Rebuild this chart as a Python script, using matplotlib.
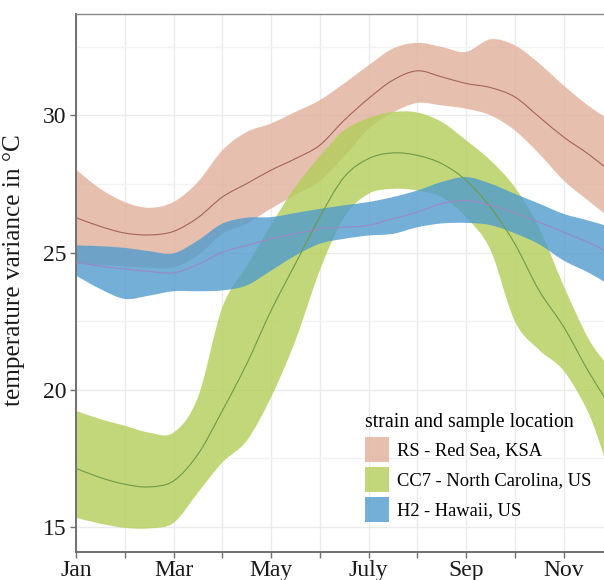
import matplotlib
matplotlib.use("Agg")
import numpy as np
import matplotlib.pyplot as plt
from matplotlib.patches import Patch, PathPatch
from matplotlib.path import Path
from matplotlib.ticker import MultipleLocator

plt.rcParams['font.family'] = ['Liberation Serif', 'DejaVu Serif']

# month index: 0 = Jan ... 11 = Dec
months = [0, 0.5, 1, 1.5, 2, 2.5, 3, 3.5, 4, 4.5, 5, 5.5, 6, 6.5, 7, 7.5, 8, 8.5, 9, 9.5, 10, 10.5, 10.85]

rs_mid = [26.27, 25.95, 25.71, 25.64, 25.77, 26.27, 27.02, 27.51, 28.0, 28.42, 28.91, 29.82,
          30.61, 31.28, 31.62, 31.4, 31.16, 31.01, 30.67, 29.94, 29.21, 28.6, 28.11]
rs_hi = [28.02, 27.32, 26.84, 26.63, 26.84, 27.57, 28.72, 29.39, 29.7, 30.12, 30.55, 31.16,
         31.82, 32.43, 32.64, 32.49, 32.31, 32.77, 32.55, 31.89, 31.09, 30.36, 29.94]
rs_lo = [24.6, 24.55, 24.5, 24.45, 24.46, 24.9, 25.68, 26.05, 26.6, 27.1, 27.6, 28.5,
         29.5, 30.1, 30.45, 30.36, 30.24, 30.0, 29.45, 28.6, 27.63, 26.9, 26.41]

cc7_mid = [17.14, 16.8, 16.56, 16.46, 16.68, 17.65, 19.23, 20.94, 22.88, 24.59, 26.29, 27.75,
           28.42, 28.63, 28.54, 28.24, 27.63, 26.65, 25.32, 23.61, 22.3, 20.7, 19.7]
cc7_hi = [19.23, 18.93, 18.69, 18.44, 18.44, 19.72, 23.0, 24.5, 26.0, 27.4, 28.5, 29.45,
          29.9, 30.12, 30.1, 29.76, 29.09, 28.36, 27.38, 25.9, 23.8, 21.9, 21.0]
cc7_lo = [15.34, 15.12, 14.97, 14.95, 15.15, 16.25, 17.35, 18.14, 19.72, 21.79, 24.34, 26.29,
          27.14, 27.32, 27.26, 27.02, 26.29, 25.1, 22.5, 21.45, 20.7, 19.2, 17.5]

h2_mid = [24.65, 24.5, 24.4, 24.31, 24.26, 24.56, 25.01, 25.26, 25.5, 25.68, 25.86, 25.92,
          25.99, 26.23, 26.47, 26.78, 26.9, 26.72, 26.44, 26.11, 25.74, 25.38, 25.07]
h2_hi = [25.26, 25.23, 25.17, 25.05, 24.97, 25.44, 26.05, 26.27, 26.29, 26.44, 26.59, 26.72,
         26.84, 27.02, 27.26, 27.57, 27.75, 27.51, 27.14, 26.78, 26.41, 26.17, 25.99]
h2_lo = [24.16, 23.67, 23.31, 23.43, 23.59, 23.59, 23.62, 23.8, 24.34, 24.89, 25.32, 25.5,
         25.62, 25.68, 25.92, 26.06, 26.08, 26.0, 25.7, 25.3, 24.71, 24.28, 23.92]

tick_pos = [0, 2, 4, 6, 8, 10]
tick_labels = ["Jan", "Mar", "May", "July", "Sep", "Nov"]
labels = ["RS - Red Sea, KSA", "CC7 - North Carolina, US", "H2 - Hawaii, US"]

fill_cols = ["#E0B09B", "#B3CE59", "#509BCD"]
line_cols = ["#A4645E", "#6F9A48", "#9C88C2"]


def bezier_segs(x, y):
    # catmull-rom through the points, as cubic bezier control points
    p = np.column_stack([x, y]).astype(float)
    n = len(p)
    verts = []
    for i in range(n - 1):
        p0 = p[i - 1] if i > 0 else p[i]
        p3 = p[i + 2] if i + 2 < n else p[i + 1]
        verts += [p[i] + (p[i + 1] - p0) / 6, p[i + 1] - (p3 - p[i]) / 6, p[i + 1]]
    return verts


def curve_path(x, y):
    verts = [(x[0], y[0])] + bezier_segs(x, y)
    codes = [Path.MOVETO] + [Path.CURVE4] * (len(verts) - 1)
    return Path(verts, codes)


def band_path(x, lo, hi):
    top = [(x[0], hi[0])] + bezier_segs(x, hi)
    bot = [(x[-1], lo[-1])] + bezier_segs(x[::-1], lo[::-1])
    verts = top + bot + [(x[0], hi[0])]
    codes = ([Path.MOVETO] + [Path.CURVE4] * (len(top) - 1) + [Path.LINETO]
             + [Path.CURVE4] * (len(bot) - 1) + [Path.CLOSEPOLY])
    return Path(verts, codes)


fig = plt.figure(figsize=(6.04, 5.8), dpi=100)
ax = fig.add_axes([76/604, 28/580, 528/604, 538/580])

series = [(rs_lo, rs_mid, rs_hi), (cc7_lo, cc7_mid, cc7_hi), (h2_lo, h2_mid, h2_hi)]
for (lo, mid, hi), fc, lc in zip(series, fill_cols, line_cols):
    ax.add_patch(PathPatch(band_path(months, lo, hi), facecolor=fc, alpha=0.8,
                           edgecolor="none", zorder=2))
    ax.add_patch(PathPatch(curve_path(months, mid), facecolor="none", edgecolor=lc,
                           linewidth=0.8, zorder=3))

ax.set_xlim(0, 10.83)
ax.set_ylim(14.09, 33.69)

ax.set_xticks(range(11))
ax.set_xticklabels([tick_labels[tick_pos.index(i)] if i in tick_pos else "" for i in range(11)])
ax.set_yticks([15, 20, 25, 30])
ax.yaxis.set_minor_locator(MultipleLocator(2.5))
ax.grid(True, which="major", color="#EBEBEB", linewidth=1.0, zorder=0)
ax.grid(True, which="minor", axis="y", color="#F2F2F2", linewidth=1.0, zorder=0)
ax.set_axisbelow(True)
ax.tick_params(axis="both", which="major", length=4, width=1, color="#707070",
               labelsize=17, labelcolor="#1a1a1a", pad=3)
ax.tick_params(axis="x", which="major", pad=2)
ax.tick_params(axis="y", which="minor", length=0)

for s in ["left", "bottom"]:
    ax.spines[s].set_color("#707070")
    ax.spines[s].set_linewidth(1.4)
ax.spines["top"].set_color("#8a8a8a")
ax.spines["top"].set_linewidth(1.0)
ax.spines["right"].set_visible(False)

ax.set_ylabel("temperature variance in °C", fontsize=18.2, color="#1a1a1a")
ax.yaxis.set_label_coords(-0.097, 0.524)

handles = [Patch(facecolor=c, alpha=0.8, edgecolor="none") for c in fill_cols]
leg = fig.legend(handles, labels, title="strain and sample location", loc="upper left",
                 bbox_to_anchor=(365/604, 1 - 413/580), frameon=False, fontsize=13.3,
                 title_fontsize=14.3, handlelength=1.3, handleheight=1.7,
                 handletextpad=0.45, labelspacing=0.27, borderpad=0, borderaxespad=0)
leg._legend_box.align = "left"

fig.savefig("out.png", dpi=100)
